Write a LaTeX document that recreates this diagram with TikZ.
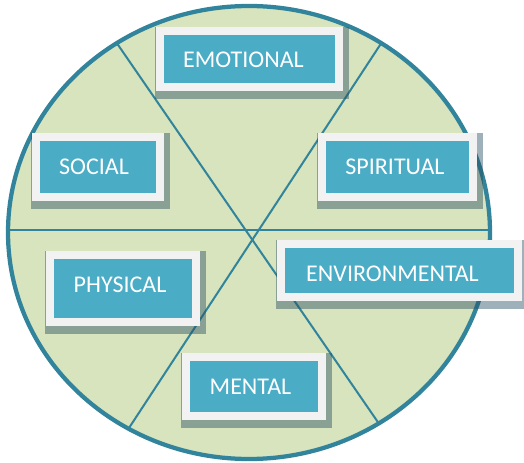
\documentclass[tikz,border=0pt]{standalone}
\usepackage{fontspec}
\setmainfont{Carlito}
\definecolor{rimc}{HTML}{31849B}
\definecolor{discc}{HTML}{D7E4BD}
\definecolor{framec}{HTML}{F2F2F2}
\definecolor{innerc}{HTML}{4BACC6}
\definecolor{shadc}{RGB}{40,80,100}
\pgfdeclarelayer{bg}
\pgfdeclarelayer{shadowlayer}
\pgfsetlayers{bg,shadowlayer,main}
\newcommand\btxt[3]{\hspace*{#1}\raisebox{#2}[0pt][0pt]{#3}}
\begin{document}
\begin{tikzpicture}[x=0.75pt,y=-0.75pt,
  tile/.style={rectangle, fill=innerc, draw=framec, line width=6pt, inner sep=0pt,
    text=white, font=\fontsize{18}{20}\selectfont},
  rim/.style={draw=rimc, line width=3.2pt},
  spoke/.style={draw=rimc, line width=1.5pt},
  shade/.style={fill=shadc, opacity=0.45}]
\useasboundingbox (0,0) rectangle (524,463);
\begin{pgfonlayer}{bg}
  \fill[discc] (249,232.5) ellipse [x radius=180.75pt, y radius=169.875pt];
  \begin{scope}
    \clip (249,232.5) ellipse [x radius=180.75pt, y radius=169.875pt];
    \draw[spoke] (0,230) -- (524,230);
    \draw[spoke] (32,-80) -- (466,550);
    \draw[spoke] (462,-80) -- (49,550);
  \end{scope}
  \draw[rim] (249,232.5) ellipse [x radius=180.75pt, y radius=169.875pt];
\end{pgfonlayer}

\node[tile, minimum width=134.25pt, minimum height=42pt] (emotional) at (249.5,59)
  {\btxt{-9pt}{-6.2pt}{EMOTIONAL}};
\node[tile, minimum width=93pt, minimum height=45pt] (social) at (98,167)
  {\btxt{-6pt}{-5.4pt}{SOCIAL}};
\node[tile, minimum width=113.25pt, minimum height=45pt] (spiritual) at (397.5,167)
  {\btxt{-3.75pt}{-5.8pt}{SPIRITUAL}};
\node[tile, minimum width=109.5pt, minimum height=50.25pt] (physical) at (123,288.5)
  {\btxt{-4.5pt}{-2.8pt}{PHYSICAL}};
\node[tile, minimum width=177.75pt, minimum height=39.75pt] (environmental) at (399.5,270.5)
  {\btxt{-10.5pt}{-8.05pt}{ENVIRONMENTAL}};
\node[tile, minimum width=102pt, minimum height=44.25pt] (mental) at (254,386.5)
  {\btxt{-5.25pt}{-5.8pt}{MENTAL}};

\begin{pgfonlayer}{shadowlayer}
  \foreach \n in {emotional,social,spiritual,physical,environmental,mental}
    \fill[shade] ([shift={(-1,8)}]\n.south west) rectangle ([shift={(6,0)}]\n.north east);
\end{pgfonlayer}
\end{tikzpicture}
\end{document}
